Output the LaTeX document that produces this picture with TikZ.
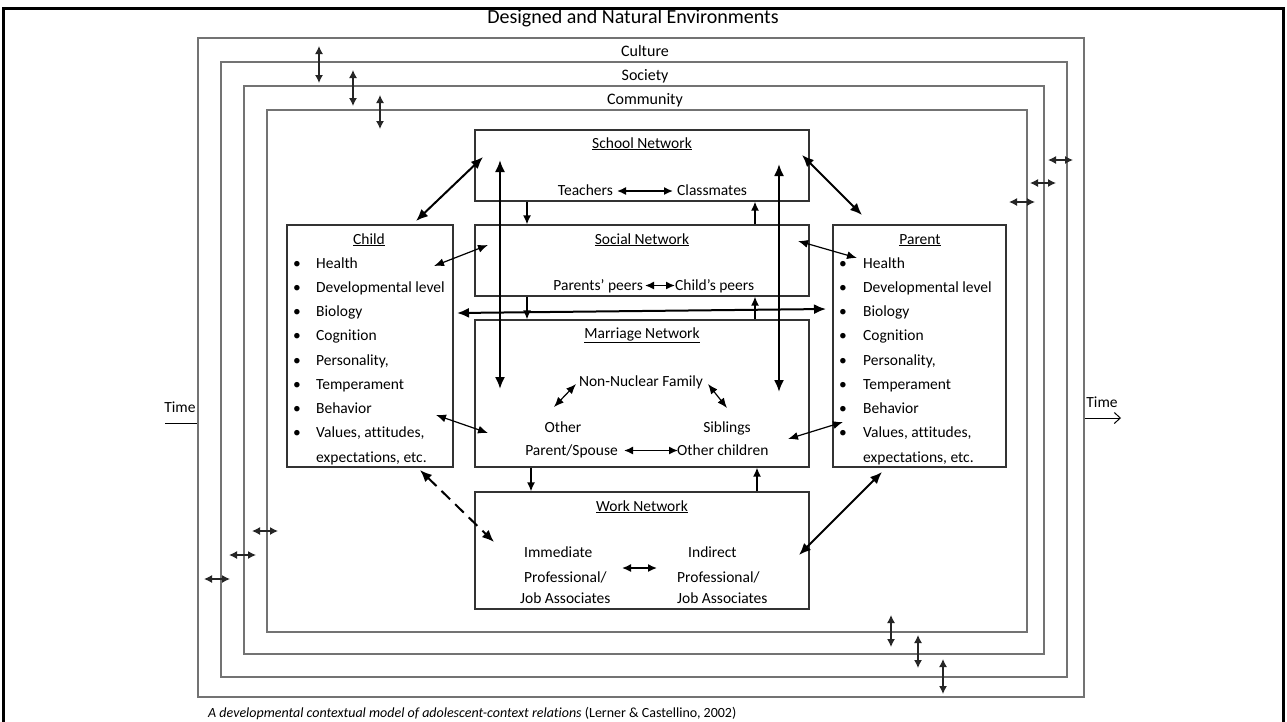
\documentclass[tikz,border=0pt]{standalone}
\usepackage{fontspec}
\setmainfont{Carlito}[Ligatures=NoCommon]
\usetikzlibrary{arrows.meta}
\begin{document}
\begin{tikzpicture}[x=1pt,y=-1pt,
  ctx/.style={draw=black!55, line width=1.5pt},
  box/.style={draw=black!80, line width=1.2pt, inner sep=0pt},
  txt/.style={font=\fontsize{15.5pt}{18pt}\selectfont, inner sep=0pt, anchor=base},
  ctxlbl/.style={font=\fontsize{16pt}{18pt}\selectfont, inner sep=0pt, anchor=base},
  thickarr/.style={line width=2pt, {Latex[length=12pt,width=10pt]}-{Latex[length=12pt,width=10pt]}},
  thinarr/.style={line width=1.2pt, {Latex[length=10pt,width=8pt]}-{Latex[length=10pt,width=8pt]}},
  midarr/.style={line width=1.5pt, {Latex[length=9pt,width=8pt]}-{Latex[length=9pt,width=8pt]}},
  onearr/.style={line width=1.5pt, -{Latex[length=9pt,width=8pt]}},
  carr/.style={line width=1.3pt, draw=black!85, {Latex[length=8pt,width=8pt]}-{Latex[length=8pt,width=8pt]}},
  dasharr/.style={line width=2pt, dash pattern=on 12pt off 7pt, {Latex[length=12pt,width=10pt]}-{Latex[length=12pt,width=10pt]}}
]
\useasboundingbox (0,0) rectangle (1287,721);
\fill[white] (0,0) rectangle (1287,721);

% outer frame and title
\node[font=\fontsize{20pt}{22pt}\selectfont, inner sep=0pt, anchor=base] (title) at (633,23) {Designed and Natural Environments};
\draw[line width=3pt] (3,725) -- (3,8.5) -- (1283.5,8.5) -- (1283.5,725);

% context boxes
\node[ctx, minimum width=886pt, minimum height=659pt] (culture) at (641,367.5) {};
\node[ctx, minimum width=846pt, minimum height=615pt] (society) at (644,369.5) {};
\node[ctx, minimum width=800pt, minimum height=568pt] (community) at (644,370) {};
\node[ctx, minimum width=760pt, minimum height=522pt] (inner) at (647,371) {};
\node[ctxlbl] (lculture) at (645,56) {Culture};
\node[ctxlbl] (lsociety) at (645,80) {Society};
\node[ctxlbl] (lcommunity) at (645,104) {Community};

% context arrows
\coordinate (t1a) at (319,46); \coordinate (t1b) at (319,83);
\coordinate (t2a) at (353,70); \coordinate (t2b) at (353,106);
\coordinate (t3a) at (380,95); \coordinate (t3b) at (380,129);
\coordinate (r1a) at (1048,160); \coordinate (r1b) at (1073,160);
\coordinate (r2a) at (1030,183); \coordinate (r2b) at (1056,183);
\coordinate (r3a) at (1009,202); \coordinate (r3b) at (1035,202);
\coordinate (l1a) at (252,531); \coordinate (l1b) at (278,531);
\coordinate (l2a) at (229,555); \coordinate (l2b) at (256,555);
\coordinate (l3a) at (204,579); \coordinate (l3b) at (230,579);
\coordinate (b1a) at (891,615); \coordinate (b1b) at (891,647);
\coordinate (b2a) at (918,635); \coordinate (b2b) at (918,668);
\coordinate (b3a) at (943,659); \coordinate (b3b) at (943,694);
\foreach \p in {t1,t2,t3,r1,r2,r3,l1,l2,l3,b1,b2,b3}{
  \draw[carr] (\p a) -- (\p b);
}

% time
\node[txt] (timel) at (180,412) {Time};
\coordinate (tla) at (165,423);
\draw[line width=1pt] (tla) -- (culture.west |- tla);
\node[txt] (timer) at (1102,407) {Time};
\coordinate (trb) at (1121,418);
\draw[line width=1pt, -{Straight Barb[length=6pt,width=11pt]}] (culture.east |- trb) -- (trb);

% network boxes
\node[box, minimum width=334pt, minimum height=71pt] (school) at (642,165.5) {};
\node[box, minimum width=334pt, minimum height=71pt] (social) at (642,260.5) {};
\node[box, minimum width=334pt, minimum height=147pt] (marriage) at (642,393.5) {};
\node[box, minimum width=334pt, minimum height=117pt] (work) at (642,550.5) {};
\node[box, minimum width=166pt, minimum height=242pt] (child) at (370,346) {};
\node[box, minimum width=173pt, minimum height=242pt] (parent) at (919.5,346) {};

% school
\node[txt] (tschool) at (642,148) {\underline{School Network}};
\node[txt, anchor=base east] (teachers) at (613,195) {Teachers};
\node[txt, anchor=base west] (classmates) at (677,195) {Classmates};
\coordinate (tca) at (617,191); \coordinate (tcb) at (673,191);
\draw[midarr] (tca) -- (tcb);
% social
\node[txt] (tsocial) at (642,244) {\underline{Social Network}};
\node[txt, anchor=base east] (ppeers) at (643,290) {Parents’ peers};
\node[txt, anchor=base west] (cpeers) at (675,290) {Child’s peers};
\coordinate (spa) at (645,285.5); \coordinate (spb) at (675,285.5);
\draw[midarr] (spa) -- (spb);
% marriage
\node[txt] (tmarriage) at (642,338) {\underline{Marriage Network}};
\node[txt] (nonnuc) at (641,386) {Non-Nuclear Family};
\node[txt] (other) at (563,432) {Other};
\node[txt] (siblings) at (727,432) {Siblings};
\node[txt, anchor=base east] (spouse) at (618,455) {Parent/Spouse};
\node[txt, anchor=base west] (ochildren) at (677,455) {Other children};
\coordinate (mpa) at (624,450.5); \coordinate (mpb) at (678,450.5);
\draw[midarr] (mpa) -- (mpb);
\coordinate (nnl) at (576,384); \coordinate (ol) at (554,407);
\coordinate (nnr) at (708,384); \coordinate (sr) at (727,408);
\draw[thinarr] (ol) -- (nnl);
\draw[thinarr] (nnr) -- (sr);
% work
\node[txt] (twork) at (642,511) {\underline{Work Network}};
\node[txt, anchor=base west] (imm1) at (524,557) {Immediate};
\node[txt, anchor=base west] (imm2) at (524,582) {Professional/};
\node[txt, anchor=base west] (imm3) at (520,603) {Job Associates};
\node[txt, anchor=base west] (ind1) at (688,557) {Indirect};
\node[txt, anchor=base west] (ind2) at (677,582) {Professional/};
\node[txt, anchor=base west] (ind3) at (677,603) {Job Associates};
\coordinate (wia) at (622,568); \coordinate (wib) at (657,568);
\draw[midarr] (wia) -- (wib);

% child and parent lists
\node[txt] (tchild) at (369,244) {\underline{Child}};
\node[txt] (tparent) at (920,244) {\underline{Parent}};
\foreach \t [count=\i from 0] in {Health, Developmental level, Biology, Cognition, {Personality,}, Temperament, Behavior, {Values, attitudes,}}{
  \node[txt, anchor=base west] (ci\i) at (316,{268+24.25*\i}) {\t};
  \node[txt] (cb\i) at (297,{268+24.25*\i}) {\textbullet};
  \node[txt, anchor=base west] (pi\i) at (863,{268+24.25*\i}) {\t};
  \node[txt] (pb\i) at (843,{268+24.25*\i}) {\textbullet};
}
\node[txt, anchor=base west] (ci8) at (316,462) {expectations, etc.};
\node[txt, anchor=base west] (pi8) at (863,462) {expectations, etc.};

% network vertical arrows
\draw[onearr] (school.south -| 527,0) -- (social.north -| 527,0);
\draw[onearr] (social.north -| 755,0) -- (school.south -| 755,0);
\draw[onearr] (social.south -| 527,0) -- (marriage.north -| 527,0);
\draw[onearr] (marriage.north -| 755,0) -- (social.south -| 755,0);
\draw[onearr] (marriage.south -| 531,0) -- (work.north -| 531,0);
\draw[onearr] (work.north -| 757,0) -- (marriage.south -| 757,0);

% long connectors
\coordinate (vla) at (500,160); \coordinate (vlb) at (500,389);
\coordinate (vra) at (779,164); \coordinate (vrb) at (779,392);
\draw[thickarr] (vla) -- (vlb);
\draw[thickarr] (vra) -- (vrb);
\coordinate (hla) at (457,313); \coordinate (hrb) at (826,309);
\draw[thickarr] (hla) -- (hrb);

% child connectors
\coordinate (cs1) at (416,221); \coordinate (cs2) at (483,157);
\draw[thickarr] (cs1) -- (cs2);
\coordinate (cso1) at (434,266); \coordinate (cso2) at (488,245);
\draw[thinarr] (cso1) -- (cso2);
\coordinate (cm1) at (436,415); \coordinate (cm2) at (488,433);
\draw[thinarr] (cm1) -- (cm2);
\coordinate (cw1) at (420,470); \coordinate (cw2) at (494,542);
\draw[dasharr] (cw1) -- (cw2);

% parent connectors
\coordinate (ps1) at (802,155); \coordinate (ps2) at (862,215);
\draw[thickarr] (ps1) -- (ps2);
\coordinate (pso1) at (798,241); \coordinate (pso2) at (857,258);
\draw[thinarr] (pso1) -- (pso2);
\coordinate (pm1) at (843,422); \coordinate (pm2) at (788,439);
\draw[thinarr] (pm1) -- (pm2);
\coordinate (pw1) at (882,472); \coordinate (pw2) at (799,555);
\draw[thickarr] (pw1) -- (pw2);

% caption
\node[font=\fontsize{14pt}{16pt}\selectfont, inner sep=0pt, anchor=base west] (caption) at (208,717) {\textit{A developmental contextual model of adolescent-context relations} (Lerner \& Castellino, 2002)};
\end{tikzpicture}
\end{document}
